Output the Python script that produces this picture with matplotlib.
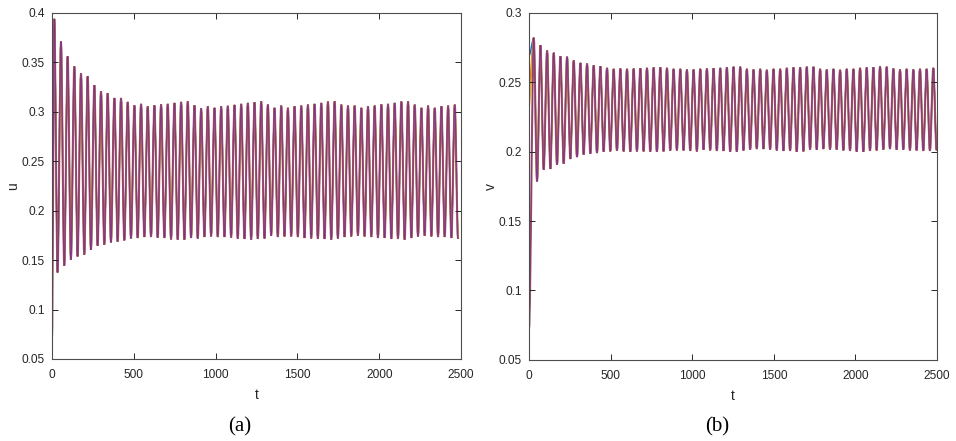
import matplotlib
matplotlib.use("Agg")
import matplotlib.pyplot as plt
from matplotlib.path import Path
from matplotlib.patches import PathPatch
import numpy as np

plt.rcParams['font.family'] = ['Liberation Sans', 'DejaVu Sans']

# successive maxima / minima of each oscillation (one per cycle)
period = 40.8
u_t_peak0, u_t_trough0 = 14.0, 34.0
v_t_peak0, v_t_trough0 = 29.0, 49.0

u_peaks = [0.394, 0.371, 0.356, 0.346, 0.339, 0.336, 0.327, 0.321, 0.319, 0.314,
           0.314, 0.310, 0.3065, 0.308, 0.3055, 0.3065, 0.3075, 0.308, 0.309, 0.310,
           0.3105, 0.3065, 0.3035, 0.3055, 0.304, 0.3055, 0.306, 0.307,
           0.308, 0.309, 0.3096, 0.3106, 0.3072, 0.304, 0.3062, 0.304, 0.3056, 0.3062,
           0.3072, 0.308, 0.309, 0.3103, 0.3106, 0.3072, 0.3062, 0.3062, 0.304, 0.3056,
           0.3062, 0.3075, 0.308, 0.309, 0.3103, 0.3106, 0.3072, 0.304, 0.3062, 0.304,
           0.3056, 0.3062, 0.3072]
u_troughs = [0.1376, 0.1444, 0.1505, 0.1538, 0.1555, 0.1603, 0.1646, 0.1656, 0.168, 0.1687,
             0.170, 0.172, 0.1724, 0.1734, 0.1734, 0.1727, 0.1724, 0.171, 0.1707, 0.1707,
             0.1724, 0.172, 0.1734, 0.174, 0.1734, 0.1734, 0.1727, 0.1717, 0.1714, 0.1707,
             0.1714, 0.172,
             0.1747, 0.1734, 0.174, 0.174, 0.1734, 0.1724, 0.172, 0.1714, 0.1714, 0.1707,
             0.172, 0.1734, 0.174, 0.1747, 0.174, 0.1734, 0.1724, 0.1724, 0.1714, 0.1714,
             0.1707, 0.1724, 0.174, 0.1747, 0.174, 0.1734, 0.1734, 0.1724, 0.1714]

v_peaks = [0.282, 0.2766, 0.2728, 0.2712, 0.2687, 0.2683, 0.2656, 0.2639, 0.2634, 0.2622,
           0.2615, 0.2603, 0.2596, 0.2598, 0.2596, 0.2598, 0.2601, 0.2603, 0.2606, 0.2608,
           0.2603, 0.2596, 0.2596, 0.2591, 0.2591,
           0.2596, 0.2598, 0.2601, 0.2603, 0.2608, 0.2611, 0.2611, 0.2596, 0.2591, 0.2596,
           0.2589, 0.2596, 0.2596, 0.2603, 0.2606, 0.2608, 0.2611, 0.2611, 0.2596, 0.2591,
           0.2596, 0.2589, 0.2596, 0.2596, 0.2603, 0.2606, 0.2608, 0.2613, 0.2611, 0.2598,
           0.2591, 0.2596, 0.2591, 0.2596, 0.2596, 0.2603]
v_troughs = [0.1786, 0.187, 0.1875, 0.1906, 0.1913, 0.1947, 0.1961, 0.1978, 0.1985, 0.199,
             0.2, 0.2002, 0.2007, 0.2002, 0.1998, 0.2002, 0.2002, 0.2, 0.1998, 0.2002,
             0.2007, 0.2009, 0.2009, 0.2005, 0.2002,
             0.2014, 0.2009, 0.2005, 0.2005, 0.1998, 0.1998, 0.2009, 0.2014, 0.2019, 0.2019,
             0.2014, 0.2009, 0.2005, 0.2005, 0.1998, 0.2002, 0.2014, 0.2014, 0.2019, 0.2014,
             0.2014, 0.2009, 0.2005, 0.2, 0.1998, 0.2005, 0.2009, 0.2014, 0.2019, 0.2014,
             0.2014, 0.2009, 0.2009, 0.2005, 0.2005, 0.2009]

# initial values of the individual components at t = 0
u_start = [0.27, 0.252, 0.238, 0.072, 0.072]
v_start = [0.269, 0.245, 0.232, 0.073, 0.075]
line_colors = ['#0072bd', '#d95319', '#edb120', '#a35c60', '#7e2f8e']
line_widths = [1.0, 1.0, 1.0, 1.5, 0.55]


def build(start, t_p0, t_t0, peaks, troughs):
    n = len(peaks)
    tp = t_p0 + period * np.arange(n)
    tt = t_t0 + period * np.arange(n)
    t = np.empty(2 * n)
    y = np.empty(2 * n)
    t[0::2], t[1::2] = tp, tt
    y[0::2], y[1::2] = peaks, troughs
    return np.r_[0.0, t], np.r_[start, y]


def wave_path(t, y):
    # cubic segments with flat tangents at every extremum -> sine-like shape
    verts = [(t[0], y[0])]
    codes = [Path.MOVETO]
    k = 0.3
    for i in range(1, len(t)):
        dt = t[i] - t[i - 1]
        verts += [(t[i - 1] + k * dt, y[i - 1]), (t[i] - k * dt, y[i]), (t[i], y[i])]
        codes += [Path.CURVE4] * 3
    return Path(verts, codes)


def style(ax, ylim, yticks, ylab):
    ax.set_xlim(0, 2500)
    ax.set_ylim(*ylim)
    ax.set_xticks([0, 500, 1000, 1500, 2000, 2500])
    ax.set_yticks(yticks)
    ax.set_yticklabels(['%g' % v for v in yticks])
    ax.tick_params(direction='in', top=True, right=True, length=4, width=0.7,
                   labelsize=8.6, colors='#262626')
    ax.tick_params(axis='x', pad=7)
    ax.tick_params(axis='y', pad=5)
    for s in ax.spines.values():
        s.set_color('#4d4d4d')
        s.set_linewidth(0.8)
    ax.set_xlabel('t', fontsize=10, color='#262626', labelpad=5)
    ax.set_ylabel(ylab, fontsize=10, color='#262626', labelpad=1)


fig = plt.figure(figsize=(9.56, 4.41), dpi=100)
ax1 = fig.add_axes([0.0544, 0.186, 0.4278, 0.7846])
ax2 = fig.add_axes([0.5534, 0.184, 0.4268, 0.7870])

for u0, v0, c, lw in zip(u_start, v_start, line_colors, line_widths):
    t, y = build(u0, u_t_peak0, u_t_trough0, u_peaks, u_troughs)
    ax1.add_patch(PathPatch(wave_path(t, y), fill=False, edgecolor=c, lw=lw))
    t, y = build(v0, v_t_peak0, v_t_trough0, v_peaks, v_troughs)
    ax2.add_patch(PathPatch(wave_path(t, y), fill=False, edgecolor=c, lw=lw))

style(ax1, (0.05, 0.4), [0.05, 0.1, 0.15, 0.2, 0.25, 0.3, 0.35, 0.4], 'u')
style(ax2, (0.05, 0.3), [0.05, 0.1, 0.15, 0.2, 0.25, 0.3], 'v')

fig.text(240 / 956, 1 - 427 / 441, '(a)', ha='center', va='center',
         fontsize=15, family='Liberation Serif')
fig.text(717 / 956, 1 - 427 / 441, '(b)', ha='center', va='center',
         fontsize=15, family='Liberation Serif')

fig.savefig('out.png', dpi=100)
